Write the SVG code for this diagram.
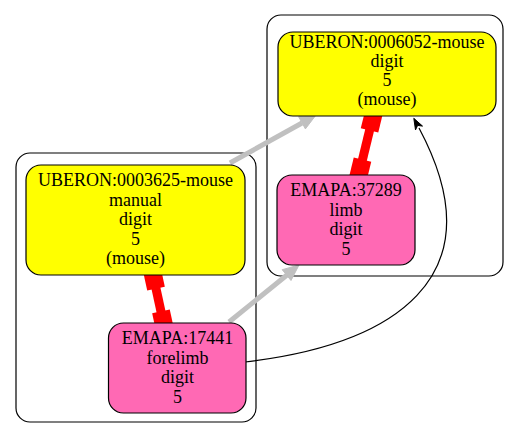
<svg xmlns="http://www.w3.org/2000/svg" width="523" height="441" viewBox="0 0 523 441">
<defs>
<style>
.cluster{fill:none;stroke:#000;stroke-width:1.2}
.node rect{stroke:#000;stroke-width:1.2}
.yellow{fill:#ffff00}
.pink{fill:#ff69b4}
text{font-family:"Liberation Serif","Times New Roman",serif;font-size:18px;fill:#000;text-anchor:middle}
.gray{stroke:#c0c0c0;stroke-width:5;fill:none}
.grayhead{fill:#c0c0c0;stroke:#c0c0c0;stroke-width:1}
.red{fill:#ff0000}
.blk{stroke:#000;stroke-width:1.2;fill:none}
</style>
</defs>
<rect width="523" height="441" fill="#fff"/>
<g id="clusters">
<rect class="cluster" x="16" y="153" width="240" height="269" rx="14"/>
<rect class="cluster" x="267" y="15" width="236" height="261" rx="14"/>
</g>
<g id="connectors">
<line class="gray" x1="230" y1="163" x2="302" y2="123"/>
<polygon class="grayhead" points="316,115 305.4,128.9 298.6,116.7"/>
<line class="gray" x1="229" y1="322" x2="287" y2="275"/>
<polygon class="grayhead" points="299,265 291,280.5 282.2,269.7"/>
<g transform="translate(152,270) rotate(77.8)">
<rect class="red" x="0" y="-4.5" width="61.4" height="9"/>
<rect class="red" x="0" y="-9" width="19" height="18"/>
<rect class="red" x="42.4" y="-9" width="19" height="18"/>
</g>
<g transform="translate(374,112) rotate(103.6)">
<rect class="red" x="0" y="-4.5" width="67.9" height="9"/>
<rect class="red" x="0" y="-9" width="19" height="18"/>
<rect class="red" x="48.9" y="-9" width="19" height="18"/>
</g>
<path class="blk" d="M245,362 C390,345 500,280 419,128"/>
<polygon points="413.8,118.3 422.5,126.1 417.6,125.4 415.5,129.9" fill="#000" stroke="#000" stroke-width="1"/>
</g>
<g id="node-uberon-0006052" class="node">
<rect class="yellow" x="278" y="32" width="218" height="84" rx="15"/>
<text x="387" y="48">UBERON:0006052-mouse</text>
<text x="387" y="67">digit</text>
<text x="387" y="86">5</text>
<text x="387" y="105">(mouse)</text>
</g>
<g id="node-uberon-0003625" class="node">
<rect class="yellow" x="26" y="165" width="219" height="110" rx="15"/>
<text x="135.5" y="186">UBERON:0003625-mouse</text>
<text x="135.5" y="205.5">manual</text>
<text x="135.5" y="225">digit</text>
<text x="135.5" y="244.5">5</text>
<text x="135.5" y="264">(mouse)</text>
</g>
<g id="node-emapa-37289" class="node">
<rect class="pink" x="277" y="175" width="138" height="90" rx="15"/>
<text x="346" y="196">EMAPA:37289</text>
<text x="346" y="215.5">limb</text>
<text x="346" y="235">digit</text>
<text x="346" y="254.5">5</text>
</g>
<g id="node-emapa-17441" class="node">
<rect class="pink" x="108.5" y="323" width="137.5" height="90" rx="15"/>
<text x="177.5" y="344">EMAPA:17441</text>
<text x="177.5" y="363.5">forelimb</text>
<text x="177.5" y="383">digit</text>
<text x="177.5" y="402.5">5</text>
</g>
</svg>
